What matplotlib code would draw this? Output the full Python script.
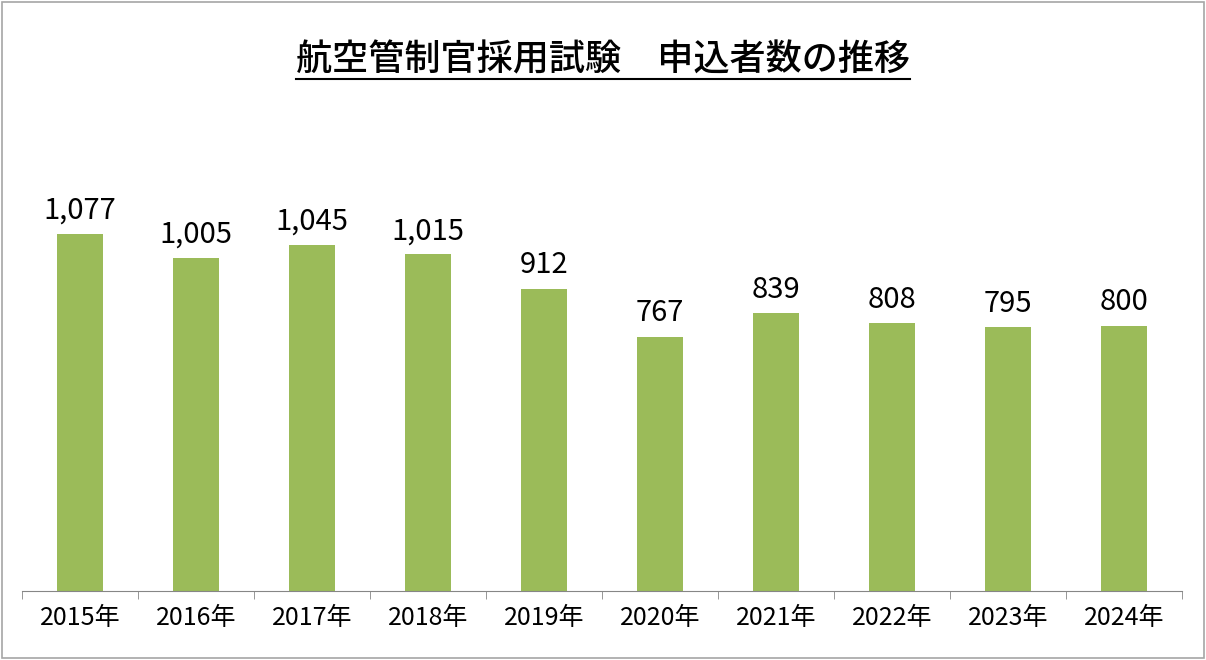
import matplotlib
matplotlib.use("Agg")
import matplotlib.pyplot as plt
from matplotlib.patches import Rectangle

plt.rcParams["font.family"] = "Noto Sans CJK JP"

years = ["2015年", "2016年", "2017年", "2018年", "2019年", "2020年", "2021年", "2022年", "2023年", "2024年"]
values = [1077, 1005, 1045, 1015, 912, 767, 839, 808, 795, 800]
title = "航空管制官採用試験　申込者数の推移"

W, H = 1206, 660
fig = plt.figure(figsize=(W/100, H/100), dpi=100)
fig.patches.append(Rectangle((2/W, 2/H), 1-4/W, 1-4/H, transform=fig.transFigure,
                             fill=False, edgecolor="#a6a6a6", linewidth=1.2))
ax = fig.add_axes([22/W, (H-591)/H, 1160/W, 491/H])
x = list(range(len(years)))
ax.bar(x, values, width=0.4, color="#9bbb59")
for xi, v in zip(x, values):
    ax.text(xi, v + 25, f"{v:,}", ha="center", va="bottom", fontsize=21)
ax.set_xlim(-0.5, len(years) - 0.5)
ax.set_ylim(0, 1481)
ax.set_yticks([])
ax.set_xticks(x)
ax.set_xticklabels(years, fontsize=18)
ax.set_xticks([i - 0.5 for i in range(len(years) + 1)], minor=True)
ax.tick_params(axis="x", which="major", length=0, pad=10)
ax.tick_params(axis="x", which="minor", length=6, color="#868686", direction="out")
for s in ["top", "right", "left"]:
    ax.spines[s].set_visible(False)
ax.spines["bottom"].set_color("#868686")
t = fig.text(0.5, (H-60)/H, title, ha="center", va="center", fontsize=26, fontweight="medium")
fig.canvas.draw()
bb = t.get_window_extent()
fig.add_artist(plt.Line2D([bb.x0/W, bb.x1/W], [(bb.y0-1)/H]*2, transform=fig.transFigure,
                          color="black", linewidth=1.5))
fig.savefig("out.png", dpi=100)
